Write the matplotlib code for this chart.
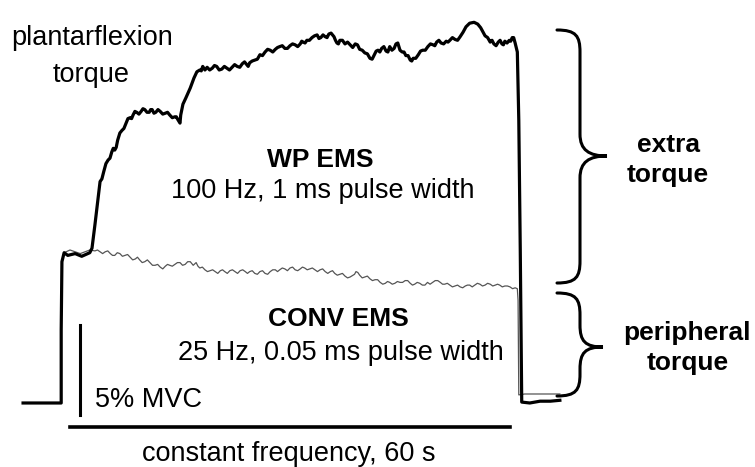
import matplotlib
matplotlib.use("Agg")
import matplotlib.pyplot as plt
from matplotlib.path import Path
from matplotlib.patches import PathPatch

plt.rcParams['font.family'] = ['Liberation Sans', 'DejaVu Sans']

# WP EMS trace (time in s, torque in % MVC)
wp_time = [-6.4, -1.2, -1.2, -1.1, -0.8, -0.3, 0.7, 1.6, 2.7, 3.0, 3.4, 3.8, 4.1, 4.6,
           5.2, 5.7, 6.1, 6.5, 7.1, 7.6, 8.2, 8.6, 9.1, 9.7, 10.2, 10.8, 11.2, 11.7,
           12.3, 13.0, 13.6, 14.3, 14.7, 15.0, 15.1, 15.4, 15.8, 16.4, 16.9, 17.3,
           17.7, 18.1, 18.4, 18.7, 19.4, 20.0, 20.7, 21.4, 22.1, 22.8, 23.5, 24.1,
           24.5, 25.2, 25.9, 26.6, 27.3, 28.0, 28.6, 29.3, 30.0, 30.7, 31.4, 31.8,
           32.3, 33.0, 33.7, 34.2, 34.8, 35.3, 35.6, 36.0, 36.4, 36.8, 37.5, 38.2,
           38.9, 39.5, 40.2, 40.9, 41.5, 42.0, 42.5, 43.1, 43.6, 44.2, 44.7, 45.3,
           45.8, 46.4, 46.8, 47.5, 48.1, 48.8, 49.5, 50.0, 50.6, 51.3, 51.8, 52.5,
           53.2, 53.6, 54.0, 54.5, 55.1, 55.6, 56.0, 56.6, 57.3, 57.8, 58.4, 58.9,
           59.3, 59.9, 60.3, 60.7, 61.0, 61.2, 61.4, 61.5, 61.6, 62.7, 64.1, 65.5,
           66.8]
wp_torque = [0, 0, 4.05, 7.85, 8.35, 8.2, 8.3, 8.15, 8.35, 8.6, 9.9, 11.3, 12.3, 12.85,
             13.5, 13.95, 14.05, 14.6, 15.15, 15.5, 15.85, 16.0, 16.15, 16.2, 16.3,
             16.15, 16.3, 16.15, 16.2, 16.1, 16.0, 15.9, 15.75, 15.55, 16.0, 16.6,
             16.95, 17.5, 18.05, 18.4, 18.5, 18.7, 18.5, 18.65, 18.6, 18.7, 18.55,
             18.6, 18.65, 18.7, 18.85, 18.8, 18.9, 19.05, 19.35, 19.5, 19.6, 19.65,
             19.8, 19.7, 19.85, 19.9, 19.95, 20.05, 20.15, 20.3, 20.45, 20.3, 20.35,
             20.5, 20.55, 20.35, 20.0, 20.15, 19.95, 19.9, 19.95, 19.65, 19.45, 19.15,
             19.35, 19.6, 19.7, 19.55, 19.8, 19.7, 20.0, 19.5, 19.3, 19.05, 19.15,
             19.35, 19.6, 19.8, 19.9, 20.05, 20.0, 20.1, 20.15, 20.2, 20.35, 20.6,
             20.9, 21.1, 21.15, 21.05, 20.85, 20.4, 20.05, 19.95, 20.05, 19.95, 20.1,
             20.15, 20.3, 20.0, 19.5, 15.7, 8.5, 4.05, 0.05, 0, 0.1, 0.1, 0.15]

# small wiggles of the WP trace between the points above
wp_jit_time = [4.35, 4.9, 5.45, 5.9, 6.3, 6.8, 7.35, 7.9, 8.4, 8.85, 9.4, 9.95, 10.5,
               11.0, 11.45, 12.0, 12.65, 13.3, 13.95, 14.5, 17.9, 19.05, 19.7, 20.35,
               21.05, 21.75, 22.45, 23.15, 23.8, 24.3, 24.85, 25.55, 26.25, 26.95,
               27.65, 28.3, 28.95, 29.65, 30.35, 31.05, 31.6, 32.05, 32.65, 33.35,
               33.95, 34.5, 35.05, 36.2, 36.6, 37.15, 37.85, 38.55, 39.2, 39.85, 40.55,
               41.2, 41.75, 42.25, 42.8, 43.35, 43.9, 44.45, 45.0, 45.55, 46.1, 46.6,
               47.15, 47.8, 48.45, 49.15, 49.75, 50.3, 50.95, 51.55, 52.15, 52.85,
               56.95, 57.55, 58.1, 58.65, 59.1, 59.6, 60.1, 60.5]
wp_jit_torque = [12.45, 13.3, 13.6, 14.15, 14.2, 15.0, 15.25, 15.8, 15.8, 16.2, 16.05,
                 16.35, 16.15, 16.3, 16.1, 16.3, 16.05, 16.15, 15.85, 15.9, 18.45, 18.5,
                 18.75, 18.5, 18.7, 18.5, 18.8, 18.65, 18.95, 18.7, 19.0, 19.1, 19.3,
                 19.65, 19.5, 19.75, 19.85, 19.7, 19.95, 19.8, 20.1, 20.0, 20.15, 20.4,
                 20.25, 20.45, 20.3, 20.15, 19.95, 20.15, 20.05, 19.75, 19.9, 19.6, 19.4,
                 19.1, 19.55, 19.5, 19.8, 19.5, 19.6, 19.95, 19.6, 19.5, 19.3, 19.0,
                 19.15, 19.55, 19.6, 19.95, 19.85, 20.15, 19.95, 20.05, 20.3, 20.15,
                 20.3, 20.15, 19.85, 20.15, 19.9, 20.0, 20.1, 20.3]

# CONV EMS trace (time in s, torque in % MVC)
conv_time = [-0.8, 0.0, 1.4, 2.7, 3.4, 4.1, 4.8, 5.5, 6.1, 6.8, 7.5, 8.2, 8.9, 9.5,
             10.2, 10.9, 11.6, 12.3, 13.0, 13.6, 14.3, 15.0, 15.7, 16.4, 16.8, 17.2,
             17.7, 18.4, 19.1, 19.8, 20.5, 21.1, 21.8, 22.5, 23.2, 23.9, 24.5, 25.2,
             25.9, 26.6, 27.3, 28.0, 28.6, 29.3, 30.0, 30.7, 31.4, 32.0, 32.7, 33.4,
             34.1, 34.8, 35.5, 36.1, 36.8, 37.5, 38.2, 38.6, 39.0, 39.5, 40.2, 40.9,
             41.6, 42.3, 43.0, 43.6, 44.3, 45.0, 45.7, 46.4, 47.0, 47.7, 48.4, 49.1,
             49.8, 50.5, 51.1, 51.8, 52.5, 53.2, 53.9, 54.5, 55.2, 55.9, 56.6, 57.3,
             58.0, 58.6, 59.3, 60.0, 60.7, 61.0, 61.1, 61.2, 62.0, 66.8]
conv_torque = [8.35, 8.5, 8.3, 8.5, 8.45, 8.4, 8.4, 8.3, 8.2, 8.3, 8.2, 8.1, 8.0, 7.95,
               7.85, 7.8, 7.65, 7.55, 7.6, 7.65, 7.7, 7.8, 7.7, 7.85, 7.65, 7.8, 7.5,
               7.4, 7.35, 7.3, 7.35, 7.3, 7.35, 7.3, 7.35, 7.3, 7.3, 7.2, 7.3, 7.2, 7.3,
               7.4, 7.4, 7.45, 7.5, 7.4, 7.45, 7.5, 7.45, 7.4, 7.4, 7.3, 7.3, 7.2, 7.15,
               7.05, 7.0, 7.1, 7.3, 7.1, 7.0, 6.9, 6.85, 6.7, 6.65, 6.7, 6.65, 6.7, 6.8,
               6.65, 6.6, 6.65, 6.55, 6.6, 6.8, 6.7, 6.6, 6.55, 6.5, 6.45, 6.5, 6.55,
               6.55, 6.6, 6.55, 6.6, 6.55, 6.55, 6.5, 6.45, 6.4, 6.35, 5.7, 0.45, 0.5,
               0.5]

conv_jit_time = [3.75, 4.45, 5.15, 5.8, 6.45, 7.15, 7.85, 8.55, 9.2, 9.85, 10.55, 11.25,
                 11.95, 12.65, 13.3, 13.95, 14.65, 15.35, 16.05, 17.45, 18.05, 18.75,
                 19.45, 20.15, 20.8, 21.45, 22.15, 22.85, 23.55, 24.2, 24.85, 25.55,
                 26.25, 26.95, 27.65, 28.3, 28.95, 29.65, 30.35, 31.05, 31.7, 32.35,
                 33.05, 33.75, 34.45, 35.15, 35.8, 36.45, 37.15, 37.85, 38.8, 39.25,
                 39.85, 40.55, 41.25, 41.95, 42.65, 43.3, 43.95, 44.65, 45.35, 46.05,
                 46.7, 47.35, 48.05, 48.75, 49.45, 50.15, 50.8, 51.45, 52.15, 52.85,
                 53.55, 54.2, 54.85, 55.55, 56.25, 56.95, 57.65, 58.3, 58.95, 59.65,
                 60.35]
conv_jit_torque = [8.5, 8.3, 8.45, 8.2, 8.35, 8.15, 8.25, 7.95, 8.1, 7.8, 7.95, 7.65,
                   7.7, 7.45, 7.7, 7.6, 7.8, 7.65, 7.85, 7.6, 7.55, 7.3, 7.4, 7.2, 7.4,
                   7.2, 7.4, 7.2, 7.4, 7.2, 7.35, 7.15, 7.35, 7.15, 7.4, 7.3, 7.5, 7.35,
                   7.55, 7.35, 7.55, 7.4, 7.5, 7.3, 7.45, 7.2, 7.35, 7.1, 7.2, 6.95,
                   7.15, 7.25, 6.95, 7.05, 6.8, 6.85, 6.6, 6.75, 6.6, 6.75, 6.7, 6.8,
                   6.55, 6.7, 6.55, 6.7, 6.7, 6.8, 6.6, 6.65, 6.45, 6.55, 6.4, 6.55,
                   6.45, 6.65, 6.5, 6.65, 6.5, 6.6, 6.45, 6.5, 6.35]

scale_mvc = 5      # % MVC scale bar
duration = 60      # s, stimulation bar


def merged(t_main, v_main, t_jit, v_jit):
    pts = sorted(zip(t_main + t_jit, v_main + v_jit), key=lambda p: p[0])
    return [p[0] for p in pts], [p[1] for p in pts]


wp_t, wp_v = merged(wp_time, wp_torque, wp_jit_time, wp_jit_torque)
conv_t, conv_v = merged(conv_time, conv_torque, conv_jit_time, conv_jit_torque)

fig = plt.figure(figsize=(7.55, 4.67), dpi=100)
ax = fig.add_axes([0, 0, 1, 1])
ax.set_xlim(-9.545, 93.41)
ax.set_ylim(-3.556, 22.389)
ax.axis('off')

ax.plot(conv_t, conv_v, color='#555555', lw=0.9, zorder=2)
ax.plot(wp_t, wp_v, color='black', lw=2.3, zorder=3, solid_joinstyle='round')

# scale bars
ax.plot([1.36, 1.36], [-0.65, -0.65 + scale_mvc], color='black', lw=2.2)
ax.plot([0, duration], [-1.33, -1.33], color='black', lw=2.6)

# overlay in pixel coordinates for labels and braces
ov = fig.add_axes([0, 0, 1, 1], facecolor='none')
ov.set_xlim(0, 755)
ov.set_ylim(467, 0)
ov.axis('off')


def brace(x_end, x_mid, x_tip, top, tip, bot, r=22):
    verts = [(x_end, top), (x_mid - 4, top), (x_mid, top + 6), (x_mid, top + r),
             (x_mid, tip - r),
             (x_mid, tip - 6), (x_tip - 18, tip), (x_tip, tip),
             (x_tip - 18, tip), (x_mid, tip + 6), (x_mid, tip + r),
             (x_mid, bot - r),
             (x_mid, bot - 6), (x_mid - 4, bot), (x_end, bot)]
    codes = [Path.MOVETO, Path.CURVE4, Path.CURVE4, Path.CURVE4, Path.LINETO,
             Path.CURVE4, Path.CURVE4, Path.CURVE4,
             Path.CURVE4, Path.CURVE4, Path.CURVE4, Path.LINETO,
             Path.CURVE4, Path.CURVE4, Path.CURVE4]
    ov.add_patch(PathPatch(Path(verts, codes), fill=False, lw=2.2,
                           edgecolor='black', capstyle='round'))


brace(557, 580, 607, 30, 156, 283)
brace(557, 580, 603, 293, 347, 396)

fs = 19.5
ov.text(92, 45, 'plantarflexion', fontsize=fs, ha='center', va='baseline')
ov.text(91, 82, 'torque', fontsize=fs, ha='center', va='baseline')
ov.text(320, 167, 'WP EMS', fontsize=19, fontweight='bold', ha='center', va='baseline')
ov.text(323, 198, '100 Hz, 1 ms pulse width', fontsize=fs, ha='center', va='baseline')
ov.text(338, 326, 'CONV EMS', fontsize=19, fontweight='bold', ha='center', va='baseline')
ov.text(341, 360, '25 Hz, 0.05 ms pulse width', fontsize=fs, ha='center', va='baseline')
ov.text(95, 407, '5% MVC', fontsize=fs, ha='left', va='baseline')
ov.text(289, 461, 'constant frequency, 60 s', fontsize=fs, ha='center', va='baseline')
ov.text(668, 152, 'extra', fontsize=19, fontweight='bold', ha='center', va='baseline')
ov.text(668, 182, 'torque', fontsize=19, fontweight='bold', ha='center', va='baseline')
ov.text(687, 340, 'peripheral', fontsize=19, fontweight='bold', ha='center', va='baseline')
ov.text(688, 370, 'torque', fontsize=19, fontweight='bold', ha='center', va='baseline')

fig.savefig('out.png', dpi=100)
